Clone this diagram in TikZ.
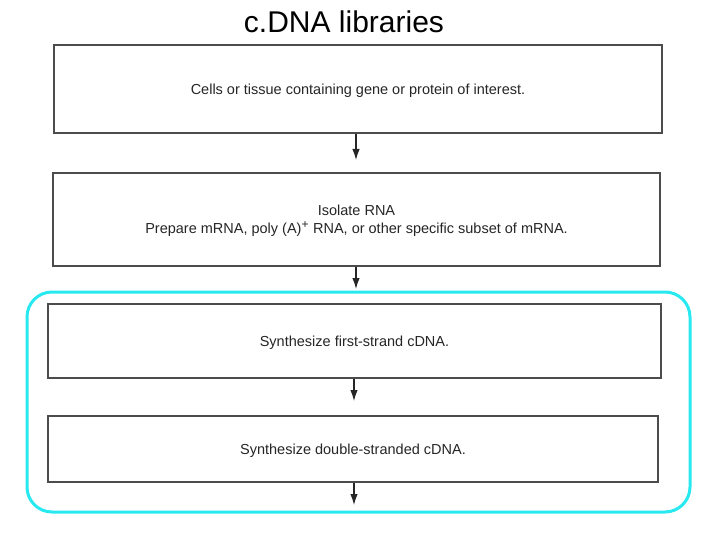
\documentclass[tikz,border=0pt]{standalone}
\usepackage{fontspec}
\setmainfont{Liberation Sans}
\usetikzlibrary{arrows.meta,positioning}
\definecolor{framecyan}{RGB}{40,232,240}
\tikzset{
    step box/.style={rectangle, draw=black!70, line width=1.5pt, fill=white, align=center,
        text=black!85, font=\fontsize{14.5}{18}\selectfont, inner sep=0pt, text depth=0pt},
    title/.style={font=\fontsize{30}{34}\selectfont, text=black},
    flow/.style={->, draw=black!85, line width=1.2pt},
    highlight/.style={draw=framecyan, line width=3pt, rounded corners=25pt}
}
\begin{document}
\begin{tikzpicture}[x=1pt,y=-1pt,>={Latex[length=11pt,width=7.5pt]}]
	\useasboundingbox (0,0) rectangle (720,540);
	\node[title] (head) at (344,22) {c.DNA libraries};
	% boxes of the protocol
	\node[step box, minimum width=608pt, minimum height=88pt] (cells) at (358,89)
		{Cells or tissue containing gene or protein of interest.};
	\node[step box, minimum width=607pt, minimum height=93pt] (rna) at (356.5,219.5)
		{Isolate RNA\\Prepare mRNA, poly (A)\textsuperscript{\large +} RNA, or other specific subset of mRNA.};
	\node[step box, minimum width=613pt, minimum height=74pt] (first) at (354.5,341)
		{Synthesize first-strand cDNA.};
	\node[step box, minimum width=610pt, minimum height=66pt] (double) at (353,449)
		{Synthesize double-stranded cDNA.};
	% cyan frame round the cDNA steps
	\node[highlight, minimum width=663pt, minimum height=220pt] (frame) at (358.5,402) {};
	% arrow ends
	\coordinate (e1) at (356,160);
	\coordinate (e2) at (356,289);
	\coordinate (e3) at (354,401);
	\coordinate (e4) at (354,505);
	\draw[flow] (cells.south -| e1) -- (e1);
	\draw[flow] (rna.south -| e2) -- (e2);
	\draw[flow] (first.south -| e3) -- (e3);
	\draw[flow] (double.south -| e4) -- (e4);
\end{tikzpicture}
\end{document}
